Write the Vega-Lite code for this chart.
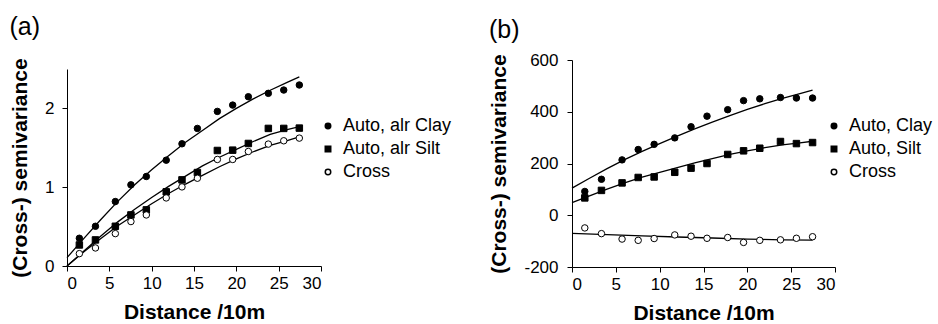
{
  "$schema": "https://vega.github.io/schema/vega-lite/v6.json",
  "padding": {"left": 9, "top": 14, "right": 0, "bottom": 0},
  "background": "white",
  "spacing": 36,
  "config": {
    "font": "Liberation Sans",
    "view": {"stroke": null},
    "axis": {"domainColor": "black", "tickColor": "black", "labelColor": "black", "titleColor": "black", "grid": false, "labelFont": "Liberation Sans", "labelFontSize": 17, "titleFont": "Liberation Sans", "titleFontSize": 21, "titleFontWeight": "bold", "tickSize": 5, "domainWidth": 1, "tickWidth": 1},
    "legend": {"labelFont": "Liberation Sans", "labelFontSize": 18, "labelColor": "black"},
    "title": {"font": "Liberation Sans", "fontSize": 25, "fontWeight": "normal", "anchor": "start", "frame": "bounds", "color": "black", "baseline": "bottom"}
  },
  "datasets": {
    "ptsA": [
      {"x": 1.46, "y": 0.352, "s": "Auto, alr Clay"}, {"x": 3.36, "y": 0.504, "s": "Auto, alr Clay"}, {"x": 5.71, "y": 0.818, "s": "Auto, alr Clay"}, {"x": 7.55, "y": 1.03, "s": "Auto, alr Clay"}, {"x": 9.37, "y": 1.136, "s": "Auto, alr Clay"}, {"x": 11.72, "y": 1.343, "s": "Auto, alr Clay"}, {"x": 13.58, "y": 1.551, "s": "Auto, alr Clay"}, {"x": 15.4, "y": 1.746, "s": "Auto, alr Clay"}, {"x": 17.76, "y": 1.962, "s": "Auto, alr Clay"}, {"x": 19.57, "y": 2.042, "s": "Auto, alr Clay"}, {"x": 21.42, "y": 2.148, "s": "Auto, alr Clay"}, {"x": 23.78, "y": 2.191, "s": "Auto, alr Clay"}, {"x": 25.6, "y": 2.233, "s": "Auto, alr Clay"}, {"x": 27.44, "y": 2.297, "s": "Auto, alr Clay"},
      {"x": 1.46, "y": 0.267, "s": "Auto, alr Silt"}, {"x": 3.36, "y": 0.331, "s": "Auto, alr Silt"}, {"x": 5.71, "y": 0.504, "s": "Auto, alr Silt"}, {"x": 7.55, "y": 0.648, "s": "Auto, alr Silt"}, {"x": 9.37, "y": 0.712, "s": "Auto, alr Silt"}, {"x": 11.72, "y": 0.941, "s": "Auto, alr Silt"}, {"x": 13.58, "y": 1.093, "s": "Auto, alr Silt"}, {"x": 15.4, "y": 1.186, "s": "Auto, alr Silt"}, {"x": 17.76, "y": 1.466, "s": "Auto, alr Silt"}, {"x": 19.57, "y": 1.47, "s": "Auto, alr Silt"}, {"x": 21.42, "y": 1.555, "s": "Auto, alr Silt"}, {"x": 23.78, "y": 1.746, "s": "Auto, alr Silt"}, {"x": 25.6, "y": 1.746, "s": "Auto, alr Silt"}, {"x": 27.44, "y": 1.75, "s": "Auto, alr Silt"},
      {"x": 1.46, "y": 0.157, "s": "Cross"}, {"x": 3.36, "y": 0.229, "s": "Cross"}, {"x": 5.71, "y": 0.411, "s": "Cross"}, {"x": 7.55, "y": 0.564, "s": "Cross"}, {"x": 9.37, "y": 0.648, "s": "Cross"}, {"x": 11.72, "y": 0.864, "s": "Cross"}, {"x": 13.58, "y": 1.004, "s": "Cross"}, {"x": 15.4, "y": 1.114, "s": "Cross"}, {"x": 17.76, "y": 1.352, "s": "Cross"}, {"x": 19.57, "y": 1.352, "s": "Cross"}, {"x": 21.42, "y": 1.453, "s": "Cross"}, {"x": 23.78, "y": 1.547, "s": "Cross"}, {"x": 25.6, "y": 1.589, "s": "Cross"}, {"x": 27.44, "y": 1.623, "s": "Cross"}
    ],
    "fitA": [
      {"x": 0, "y": 0.106, "s": "Clay"}, {"x": 2, "y": 0.35, "s": "Clay"}, {"x": 4, "y": 0.59, "s": "Clay"}, {"x": 6, "y": 0.82, "s": "Clay"}, {"x": 8, "y": 1.03, "s": "Clay"}, {"x": 10, "y": 1.22, "s": "Clay"}, {"x": 12, "y": 1.4, "s": "Clay"}, {"x": 14, "y": 1.57, "s": "Clay"}, {"x": 16, "y": 1.72, "s": "Clay"}, {"x": 18, "y": 1.87, "s": "Clay"}, {"x": 20, "y": 2.0, "s": "Clay"}, {"x": 22, "y": 2.12, "s": "Clay"}, {"x": 24, "y": 2.23, "s": "Clay"}, {"x": 26, "y": 2.33, "s": "Clay"}, {"x": 27.44, "y": 2.4, "s": "Clay"},
      {"x": 0, "y": 0, "s": "Silt"}, {"x": 2, "y": 0.19, "s": "Silt"}, {"x": 4, "y": 0.38, "s": "Silt"}, {"x": 6, "y": 0.56, "s": "Silt"}, {"x": 8, "y": 0.72, "s": "Silt"}, {"x": 10, "y": 0.87, "s": "Silt"}, {"x": 12, "y": 1.01, "s": "Silt"}, {"x": 14, "y": 1.14, "s": "Silt"}, {"x": 16, "y": 1.27, "s": "Silt"}, {"x": 18, "y": 1.38, "s": "Silt"}, {"x": 20, "y": 1.48, "s": "Silt"}, {"x": 22, "y": 1.58, "s": "Silt"}, {"x": 24, "y": 1.67, "s": "Silt"}, {"x": 26, "y": 1.73, "s": "Silt"}, {"x": 27.44, "y": 1.77, "s": "Silt"},
      {"x": 0, "y": 0, "s": "Cross"}, {"x": 2, "y": 0.18, "s": "Cross"}, {"x": 4, "y": 0.35, "s": "Cross"}, {"x": 6, "y": 0.51, "s": "Cross"}, {"x": 8, "y": 0.65, "s": "Cross"}, {"x": 10, "y": 0.79, "s": "Cross"}, {"x": 12, "y": 0.92, "s": "Cross"}, {"x": 14, "y": 1.04, "s": "Cross"}, {"x": 16, "y": 1.15, "s": "Cross"}, {"x": 18, "y": 1.26, "s": "Cross"}, {"x": 20, "y": 1.36, "s": "Cross"}, {"x": 22, "y": 1.45, "s": "Cross"}, {"x": 24, "y": 1.53, "s": "Cross"}, {"x": 26, "y": 1.59, "s": "Cross"}, {"x": 27.44, "y": 1.64, "s": "Cross"}
    ],
    "ptsB": [
      {"x": 1.46, "y": 92, "s": "Auto, Clay"}, {"x": 3.36, "y": 139, "s": "Auto, Clay"}, {"x": 5.71, "y": 214, "s": "Auto, Clay"}, {"x": 7.55, "y": 254, "s": "Auto, Clay"}, {"x": 9.37, "y": 274, "s": "Auto, Clay"}, {"x": 11.72, "y": 299, "s": "Auto, Clay"}, {"x": 13.58, "y": 342, "s": "Auto, Clay"}, {"x": 15.4, "y": 383, "s": "Auto, Clay"}, {"x": 17.76, "y": 408, "s": "Auto, Clay"}, {"x": 19.57, "y": 443, "s": "Auto, Clay"}, {"x": 21.42, "y": 450, "s": "Auto, Clay"}, {"x": 23.78, "y": 455, "s": "Auto, Clay"}, {"x": 25.6, "y": 453, "s": "Auto, Clay"}, {"x": 27.44, "y": 453, "s": "Auto, Clay"},
      {"x": 1.46, "y": 67, "s": "Auto, Silt"}, {"x": 3.36, "y": 96, "s": "Auto, Silt"}, {"x": 5.71, "y": 125, "s": "Auto, Silt"}, {"x": 7.55, "y": 146, "s": "Auto, Silt"}, {"x": 9.37, "y": 148, "s": "Auto, Silt"}, {"x": 11.72, "y": 166, "s": "Auto, Silt"}, {"x": 13.58, "y": 182, "s": "Auto, Silt"}, {"x": 15.4, "y": 200, "s": "Auto, Silt"}, {"x": 17.76, "y": 235, "s": "Auto, Silt"}, {"x": 19.57, "y": 249, "s": "Auto, Silt"}, {"x": 21.42, "y": 259, "s": "Auto, Silt"}, {"x": 23.78, "y": 285, "s": "Auto, Silt"}, {"x": 25.6, "y": 277, "s": "Auto, Silt"}, {"x": 27.44, "y": 281, "s": "Auto, Silt"},
      {"x": 1.46, "y": -49, "s": "Cross"}, {"x": 3.36, "y": -71, "s": "Cross"}, {"x": 5.71, "y": -92, "s": "Cross"}, {"x": 7.55, "y": -97, "s": "Cross"}, {"x": 9.37, "y": -90, "s": "Cross"}, {"x": 11.72, "y": -76, "s": "Cross"}, {"x": 13.58, "y": -81, "s": "Cross"}, {"x": 15.4, "y": -89, "s": "Cross"}, {"x": 17.76, "y": -86, "s": "Cross"}, {"x": 19.57, "y": -105, "s": "Cross"}, {"x": 21.42, "y": -97, "s": "Cross"}, {"x": 23.78, "y": -95, "s": "Cross"}, {"x": 25.6, "y": -89, "s": "Cross"}, {"x": 27.44, "y": -83, "s": "Cross"}
    ],
    "fitB": [
      {"x": 0, "y": 105, "s": "Clay"}, {"x": 2, "y": 143, "s": "Clay"}, {"x": 4, "y": 180, "s": "Clay"}, {"x": 6, "y": 215, "s": "Clay"}, {"x": 8, "y": 247, "s": "Clay"}, {"x": 10, "y": 277, "s": "Clay"}, {"x": 12, "y": 306, "s": "Clay"}, {"x": 14, "y": 334, "s": "Clay"}, {"x": 16, "y": 360, "s": "Clay"}, {"x": 18, "y": 385, "s": "Clay"}, {"x": 20, "y": 409, "s": "Clay"}, {"x": 22, "y": 431, "s": "Clay"}, {"x": 24, "y": 452, "s": "Clay"}, {"x": 26, "y": 470, "s": "Clay"}, {"x": 27.44, "y": 484, "s": "Clay"},
      {"x": 0, "y": 49, "s": "Silt"}, {"x": 2, "y": 75, "s": "Silt"}, {"x": 4, "y": 101, "s": "Silt"}, {"x": 6, "y": 125, "s": "Silt"}, {"x": 8, "y": 147, "s": "Silt"}, {"x": 10, "y": 166, "s": "Silt"}, {"x": 12, "y": 184, "s": "Silt"}, {"x": 14, "y": 202, "s": "Silt"}, {"x": 16, "y": 219, "s": "Silt"}, {"x": 18, "y": 235, "s": "Silt"}, {"x": 20, "y": 249, "s": "Silt"}, {"x": 22, "y": 261, "s": "Silt"}, {"x": 24, "y": 272, "s": "Silt"}, {"x": 26, "y": 280, "s": "Silt"}, {"x": 27.44, "y": 286, "s": "Silt"},
      {"x": 0, "y": -70, "s": "Cross"}, {"x": 4, "y": -75, "s": "Cross"}, {"x": 8, "y": -80, "s": "Cross"}, {"x": 12, "y": -84, "s": "Cross"}, {"x": 16, "y": -88, "s": "Cross"}, {"x": 20, "y": -92, "s": "Cross"}, {"x": 24, "y": -95, "s": "Cross"}, {"x": 27.44, "y": -96, "s": "Cross"}
    ]
  },
  "hconcat": [
    {
      "title": {"text": "(a)", "offset": 18},
      "width": 254,
      "height": 206,
      "layer": [
        {
          "data": {"name": "fitA"},
          "mark": {"type": "line", "color": "black", "strokeWidth": 1.3},
          "encoding": {
            "x": {"field": "x", "type": "quantitative", "scale": {"domain": [0, 30], "nice": false}, "axis": {"values": [0, 5, 10, 15, 20, 25, 30], "title": "Distance /10m", "labelPadding": 4, "titlePadding": 10}},
            "y": {"field": "y", "type": "quantitative", "scale": {"domain": [0, 2.5], "nice": false, "range": [206, 9]}, "axis": {"values": [0, 1, 2], "format": "d", "title": "(Cross-) semivariance", "labelPadding": 8, "titlePadding": 14}},
            "detail": {"field": "s"}
          }
        },
        {
          "data": {"name": "ptsA"},
          "mark": {"type": "point", "filled": true, "strokeWidth": 1, "size": 42, "opacity": 1},
          "encoding": {
            "x": {"field": "x", "type": "quantitative"},
            "y": {"field": "y", "type": "quantitative"},
            "shape": {"field": "s", "type": "nominal", "scale": {"range": ["circle", "square", "circle"]}, "legend": {"title": null, "orient": "none", "legendX": 252, "legendY": 57, "symbolSize": 30, "labelOffset": 6, "rowPadding": 5}},
            "fill": {"field": "s", "type": "nominal", "scale": {"range": ["black", "black", "white"]}, "legend": {"title": null, "orient": "none", "legendX": 252, "legendY": 57, "symbolSize": 30, "labelOffset": 6, "rowPadding": 5}},
            "stroke": {"field": "s", "type": "nominal", "scale": {"range": ["black", "black", "black"]}, "legend": {"title": null, "orient": "none", "legendX": 252, "legendY": 57, "symbolSize": 30, "labelOffset": 6, "rowPadding": 5}}
          }
        }
      ]
    },
    {
      "title": {"text": "(b)", "offset": 8},
      "width": 263,
      "height": 207,
      "layer": [
        {
          "data": {"name": "fitB"},
          "mark": {"type": "line", "color": "black", "strokeWidth": 1.3},
          "encoding": {
            "x": {"field": "x", "type": "quantitative", "scale": {"domain": [0, 30], "nice": false}, "axis": {"values": [0, 5, 10, 15, 20, 25, 30], "title": "Distance /10m", "labelPadding": 4, "titlePadding": 10}},
            "y": {"field": "y", "type": "quantitative", "scale": {"domain": [-200, 600], "nice": false}, "axis": {"values": [-200, -100, 0, 100, 200, 300, 400, 500, 600], "labelExpr": "'' + datum.value", "title": "(Cross-) semivariance", "labelPadding": 9, "titlePadding": 14}},
            "detail": {"field": "s"}
          }
        },
        {
          "data": {"name": "ptsB"},
          "mark": {"type": "point", "filled": true, "strokeWidth": 1, "size": 42, "opacity": 1},
          "encoding": {
            "x": {"field": "x", "type": "quantitative"},
            "y": {"field": "y", "type": "quantitative"},
            "shape": {"field": "s", "type": "nominal", "scale": {"range": ["circle", "square", "circle"]}, "legend": {"title": null, "orient": "none", "legendX": 253, "legendY": 57, "symbolSize": 30, "labelOffset": 6, "rowPadding": 5}},
            "fill": {"field": "s", "type": "nominal", "scale": {"range": ["black", "black", "white"]}, "legend": {"title": null, "orient": "none", "legendX": 253, "legendY": 57, "symbolSize": 30, "labelOffset": 6, "rowPadding": 5}},
            "stroke": {"field": "s", "type": "nominal", "scale": {"range": ["black", "black", "black"]}, "legend": {"title": null, "orient": "none", "legendX": 253, "legendY": 57, "symbolSize": 30, "labelOffset": 6, "rowPadding": 5}}
          }
        }
      ]
    }
  ],
  "resolve": {"scale": {"x": "independent", "y": "independent", "shape": "independent", "fill": "independent", "stroke": "independent"}, "legend": {"shape": "independent", "fill": "independent", "stroke": "independent"}}
}
